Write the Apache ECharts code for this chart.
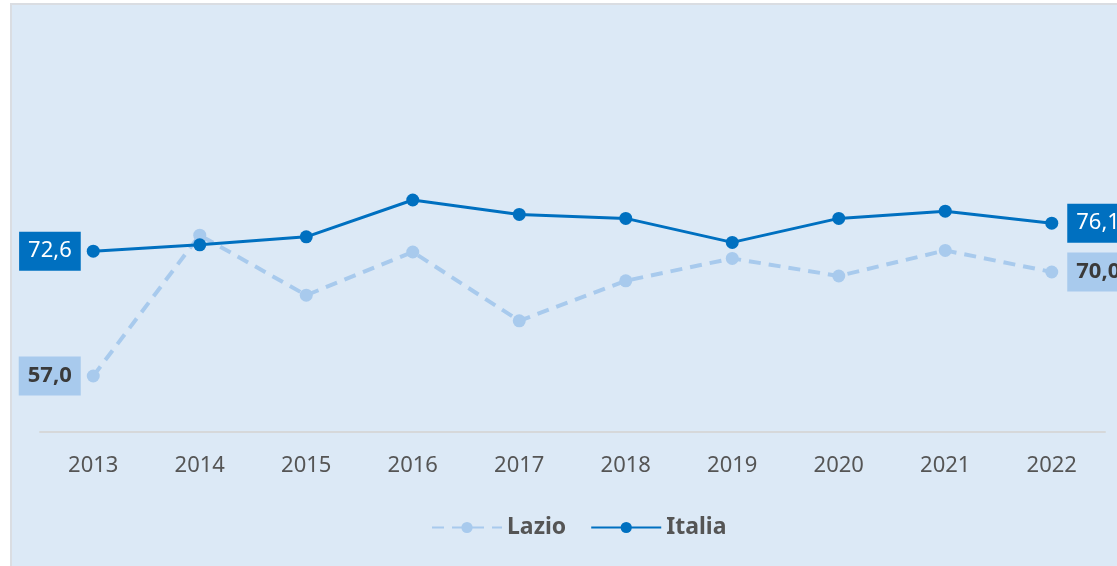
<!DOCTYPE html>
<html>
<head>
<meta charset="utf-8">
<script src="https://cdn.jsdelivr.net/npm/echarts@6/dist/echarts.min.js"></script>
<style>
  html, body { margin: 0; padding: 0; background: #fff; overflow: hidden; }
  #bg { position: absolute; left: 10px; top: 3px; width: 1107px; height: 563px;
        background: #dce9f6; border-left: 2px solid #dadde2; border-top: 2px solid #dadde2; box-sizing: border-box; }
  #main { position: absolute; left: 0; top: 0; width: 1117px; height: 566px; }
</style>
</head>
<body>
<div id="bg"></div>
<div id="main"></div>
<script>
var years = ['2013','2014','2015','2016','2017','2018','2019','2020','2021','2022'];
var lazio = [57.0, 74.6, 67.1, 72.5, 63.9, 68.9, 71.7, 69.5, 72.7, 70.0];
var italia = [72.6, 73.4, 74.4, 79.0, 77.2, 76.7, 73.7, 76.7, 77.6, 76.1];

var fontFam = '"Noto Sans", "Open Sans", sans-serif';

function fmt(v) { return v.toFixed(1).replace('.', ','); }

function endLabels(values, color, bg, bold) {
  return values.map(function (v, i) {
    var item = { value: v };
    if (i === 0 || i === values.length - 1) {
      item.label = {
        show: true,
        position: i === 0 ? 'left' : 'right',
        distance: i === 0 ? 6 : 9,
        formatter: function (p) { return fmt(p.value); },
        color: color,
        backgroundColor: bg,
        fontSize: 22,
        fontWeight: bold ? 'bold' : 'normal',
        fontFamily: fontFam,
        padding: [9, 9, 8, 9]
      };
    }
    return item;
  });
}

var chart = echarts.init(document.getElementById('main'));
chart.setOption({
  animation: false,
  grid: { left: 40, right: 12, top: 32, bottom: 134 },
  legend: {
    bottom: 22,
    left: 426,
    itemWidth: 70,
    itemHeight: 14,
    itemGap: 24,
    textStyle: { fontSize: 23, fontWeight: 'bold', color: '#555', fontFamily: fontFam },
    data: ['Lazio', 'Italia']
  },
  xAxis: {
    type: 'category',
    data: years,
    boundaryGap: true,
    axisLine: { lineStyle: { color: '#d6d8da', width: 2 } },
    axisTick: { show: false },
    axisLabel: { fontSize: 22, color: '#555', margin: 23, fontFamily: fontFam }
  },
  yAxis: {
    type: 'value',
    min: 50,
    max: 100,
    show: false,
    splitLine: { show: false }
  },
  series: [
    {
      name: 'Lazio',
      type: 'line',
      data: endLabels(lazio, '#3a3a3a', '#a8caed', true),
      symbol: 'circle',
      symbolSize: 13,
      itemStyle: { color: '#a8caed' },
      lineStyle: { color: '#a8caed', width: 4, type: [12, 8] }
    },
    {
      name: 'Italia',
      type: 'line',
      data: endLabels(italia, '#ffffff', '#0070c0', false),
      symbol: 'circle',
      symbolSize: 13,
      itemStyle: { color: '#0070c0' },
      lineStyle: { color: '#0070c0', width: 3 }
    }
  ]
});
</script>
</body>
</html>
